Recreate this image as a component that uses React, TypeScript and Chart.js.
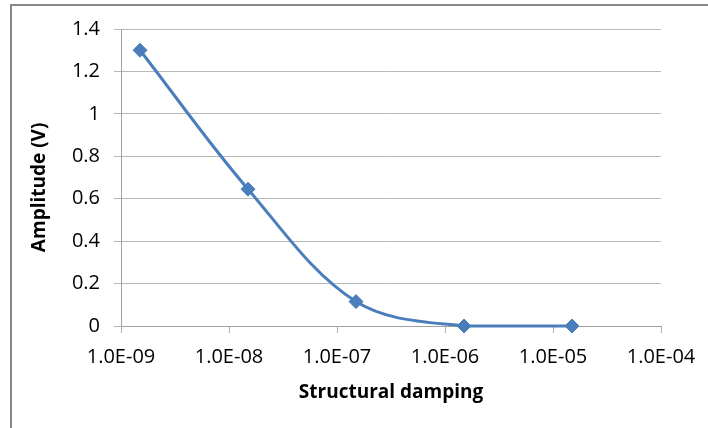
import React, { useEffect, useRef } from "react";
import { Chart, registerables } from "chart.js";

Chart.register(...registerables);

const dampingValues = [1.5e-9, 1.5e-8, 1.5e-7, 1.5e-6, 1.5e-5];
const amplitudeValues = [1.3, 0.645, 0.115, 0.0, 0.0];
const xTickValues = [1e-9, 1e-8, 1e-7, 1e-6, 1e-5, 1e-4];
const xTickLabels = ["1.0E-09", "1.0E-08", "1.0E-07", "1.0E-06", "1.0E-05", "1.0E-04"];
const yTickLabels = ["0", "0.2", "0.4", "0.6", "0.8", "1", "1.2", "1.4"];
const xTitle = "Structural damping";
const yTitle = "Amplitude (V)    ";

const FONT = "'Open Sans', 'Liberation Sans', sans-serif";

export default function App() {
  const ref = useRef<HTMLCanvasElement | null>(null);

  useEffect(() => {
    if (!ref.current) return;
    const chart = new Chart(ref.current, {
      type: "line",
      data: {
        datasets: [
          {
            data: dampingValues.map((x, i) => ({ x, y: amplitudeValues[i] })),
            borderColor: "#4a7ebb",
            backgroundColor: "#4a7ebb",
            borderWidth: 3,
            tension: 0.35,
            pointStyle: "rectRot",
            pointRadius: 7,
            pointBorderWidth: 1,
            pointBorderColor: "#4a7ebb",
            pointBackgroundColor: "#4a7ebb",
            fill: false,
            clip: false as any,
          },
        ],
      },
      options: {
        animation: false,
        responsive: false,
        devicePixelRatio: 1,
        layout: { padding: { left: 0, top: 29, right: 47, bottom: 0 } },
        plugins: { legend: { display: false }, tooltip: { enabled: false } },
        scales: {
          x: {
            type: "logarithmic",
            min: 1e-9,
            max: 1e-4,
            afterBuildTicks: (scale: any) => {
              scale.ticks = xTickValues.map((v) => ({ value: v }));
            },
            afterFit: (scale: any) => {
              scale.height = 102;
            },
            ticks: {
              autoSkip: false,
              maxRotation: 0,
              padding: 12,
              color: "#000",
              font: { family: FONT, size: 20 },
              callback: (_v: any, i: number) => xTickLabels[i],
            },
            grid: {
              drawOnChartArea: false,
              drawTicks: true,
              tickLength: 7,
              color: "#b0b0b0",
            },
            border: { color: "#a0a0a0", width: 1 },
            title: {
              display: true,
              text: xTitle,
              color: "#000",
              font: { family: FONT, size: 19, weight: "bold" },
              padding: { top: 0, bottom: 24 },
            },
          },
          y: {
            type: "linear",
            min: 0,
            max: 1.4,
            afterFit: (scale: any) => {
              scale.width = 121;
            },
            ticks: {
              stepSize: 0.2,
              padding: 14,
              color: "#000",
              font: { family: FONT, size: 20 },
              callback: (_v: any, i: number) => yTickLabels[i],
            },
            grid: {
              drawOnChartArea: true,
              drawTicks: true,
              tickLength: 7,
              color: "#b8b8b8",
            },
            border: { color: "#a0a0a0", width: 1 },
            title: {
              display: true,
              text: yTitle,
              color: "#000",
              font: { family: FONT, size: 19, weight: "bold" },
              padding: { top: 28, bottom: 0 },
            },
          },
        },
      },
    });
    return () => chart.destroy();
  }, []);

  return (
    <div
      style={{
        position: "absolute",
        left: 0,
        top: 0,
        width: 708,
        height: 428,
        overflow: "hidden",
        background: "#fff",
      }}
    >
      <div
        style={{
          position: "absolute",
          left: 10,
          top: 4,
          width: 800,
          height: 600,
          border: "2px solid #878787",
        }}
      />
      <canvas
        ref={ref}
        width={708}
        height={428}
        style={{ position: "absolute", left: 0, top: 0, width: 708, height: 428 }}
      />
    </div>
  );
}
